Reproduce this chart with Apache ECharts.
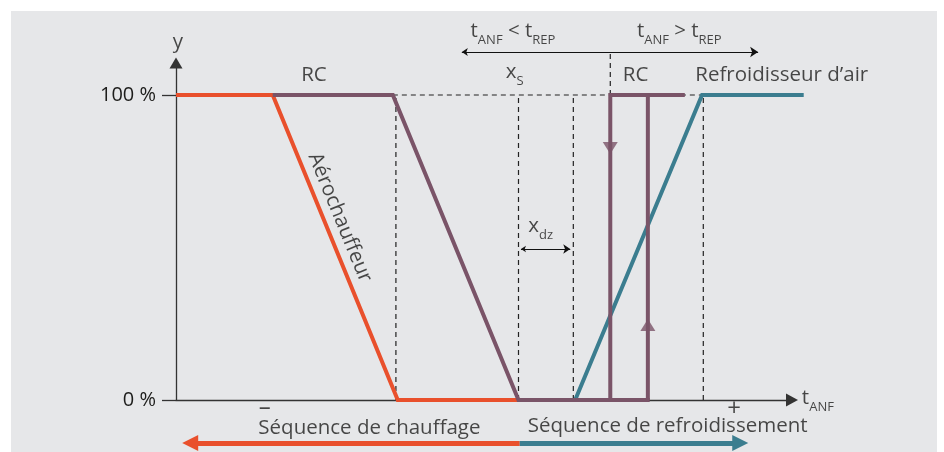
<!DOCTYPE html>
<html>
<head>
<meta charset="UTF-8">
<title>Séquence de chauffage / refroidissement</title>
<script src="https://cdn.jsdelivr.net/npm/echarts@6/dist/echarts.min.js"></script>
<style>
  body{margin:0;background:#fff}
  #bg{position:absolute;left:11px;top:11px;width:926px;height:441px;background:#e6e7e9}
  #main{position:absolute;left:0;top:0;width:944px;height:452px}
</style>
</head>
<body>
<div id="bg"></div>
<div id="main"></div>
<script type="text/javascript">
// x = t_ANF (arbitrary units 0..100), y = signal in %
var yTicks = [0, 100];

var heaterLine = [[0, 100], [15.7, 100], [36.0, 0], [55.6, 0]];      // Aérochauffeur
var rcLine     = [[15.7, 100], [35.2, 100], [55.6, 0], [76.9, 0]];   // RC
var rcLoopDown = [[70.5, 0], [70.5, 100], [82.6, 100]];
var rcLoopUp   = [[76.6, 100], [76.6, 0]];
var coolerLine = [[64.8, 0], [85.4, 100], [101.9, 100]];             // Refroidisseur d'air

// dashed help lines
var guideLines = [
  [[35.7, 0], [35.7, 100]],
  [[55.6, 0], [55.6, 100]],
  [[64.5, 0], [64.5, 100]],
  [[85.6, 0], [85.6, 100]],
  [[35.2, 100], [85.4, 100]],
  [[70.5, 100], [70.5, 114.1]]
];

var rangeArrow    = [[46.4, 114.1], [94.5, 114.1]];
var deadZoneArrow = [[56.0, 49.5], [64.0, 49.5]];
var heatArrow     = [[55.8, -14.1], [2.3, -14.1]];
var coolArrow     = [[55.8, -14.1], [91.6, -14.1]];
var loopHeads     = [[70.5, 82.6, 180], [76.6, 24.6, 0]];

var orange = '#e9502c', purple = '#7a5468', teal = '#3b7d8f', ink = '#1d1d1b';
var font = 'Open Sans';

// text: [rich text, x, y, position, rotate]
var notes = [
  ['{m|y}', 0.3, 117.2, 'inside'],
  ['{m|RC}', 22.4, 106.4, 'inside'],
  ['{m|x}{s|S}', 55.0, 107.5, 'inside'],
  ['{m|RC}', 74.6, 106.4, 'inside'],
  ['{m|Refroidisseur d’air}', 84.3, 106.4, 'right'],
  ['{m|t}{s|ANF}{m| < t}{s|REP}', 54.7, 120.9, 'inside'],
  ['{m|t}{s|ANF}{m| > t}{s|REP}', 81.7, 120.9, 'inside'],
  ['{m|x}{s|dz}', 59.2, 57.0, 'inside'],
  ['{m|t}{s|ANF}', 101.6, 0.7, 'right'],
  ['{p|–}', 14.4, -2.6, 'inside'],
  ['{p|+}', 90.6, -3.1, 'inside'],
  ['{m|Séquence de chauffage}', 31.4, -9.2, 'inside'],
  ['{m|Séquence de refroidissement}', 57.1, -8.5, 'right'],
  ['{m|Aérochauffeur}', 26.6, 59.8, 'inside', -67.7]
];

var myChart = echarts.init(document.getElementById('main'));

var axisStyle = {color: '#333', width: 1.3};

var option = {
  animation: false,
  grid: {left: 176, right: 152, top: 63, bottom: 52},
  xAxis: {
    type: 'value', min: 0, max: 100,
    axisLine: {show: true, symbol: ['none', 'triangle'], symbolSize: [13, 12], lineStyle: axisStyle},
    axisTick: {show: false},
    axisLabel: {show: false},
    splitLine: {show: false}
  },
  yAxis: {
    type: 'value', min: 0, max: 110.5,
    axisLine: {show: true, symbol: ['none', 'triangle'], symbolSize: [13, 11], lineStyle: axisStyle},
    axisTick: {show: true, customValues: yTicks, length: 14, lineStyle: axisStyle},
    axisLabel: {
      customValues: yTicks, margin: 20, fontSize: 20, fontFamily: font, color: ink,
      formatter: function (v) { return v + ' %'; }
    },
    splitLine: {show: false}
  },
  series: [
    {
      type: 'lines', coordinateSystem: 'cartesian2d', polyline: true, clip: false,
      lineStyle: {type: [5, 4], width: 1.2, color: '#222', opacity: 1},
      data: guideLines.map(function (c) { return {coords: c}; })
    },
    {
      type: 'lines', coordinateSystem: 'cartesian2d', polyline: true, clip: false,
      lineStyle: {width: 4, opacity: 1, join: 'miter', cap: 'butt'},
      data: [
        {coords: heaterLine, lineStyle: {color: orange}},
        {coords: coolerLine, lineStyle: {color: teal}},
        {coords: rcLine, lineStyle: {color: purple}},
        {coords: rcLoopDown, lineStyle: {color: purple}},
        {coords: rcLoopUp, lineStyle: {color: purple}}
      ]
    },
    {
      type: 'lines', coordinateSystem: 'cartesian2d', clip: false,
      symbol: ['arrow', 'arrow'], symbolSize: [6, 8],
      lineStyle: {width: 1.2, color: '#111', opacity: 1},
      data: [{coords: rangeArrow}]
    },
    {
      type: 'lines', coordinateSystem: 'cartesian2d', clip: false,
      symbol: ['arrow', 'arrow'], symbolSize: [5, 7],
      lineStyle: {width: 1.2, color: '#111', opacity: 1},
      data: [{coords: deadZoneArrow}]
    },
    {
      type: 'lines', coordinateSystem: 'cartesian2d', clip: false,
      symbol: ['none', 'triangle'], symbolSize: [19, 16],
      lineStyle: {width: 5, opacity: 1},
      data: [
        {coords: heatArrow, lineStyle: {color: orange}},
        {coords: coolArrow, lineStyle: {color: teal}}
      ]
    },
    {
      type: 'scatter', clip: false, symbol: 'triangle', symbolSize: [15, 12],
      itemStyle: {color: purple},
      data: loopHeads.map(function (d) { return {value: [d[0], d[1]], symbolRotate: d[2]}; })
    },
    {
      type: 'scatter', clip: false, symbolSize: 0, silent: true,
      data: notes.map(function (n) {
        return {
          value: [n[1], n[2]],
          label: {
            show: true, position: n[3], distance: 0, rotate: n[4] || 0,
            formatter: n[0],
            rich: {
              m: {fontSize: 20.5, fontFamily: font, color: ink, lineHeight: 32},
              s: {fontSize: 13, fontFamily: font, color: ink, lineHeight: 14, verticalAlign: 'bottom'},
              p: {fontSize: 24, fontFamily: font, color: ink, lineHeight: 32}
            }
          }
        };
      })
    }
  ]
};

myChart.setOption(option);
</script>
</body>
</html>
